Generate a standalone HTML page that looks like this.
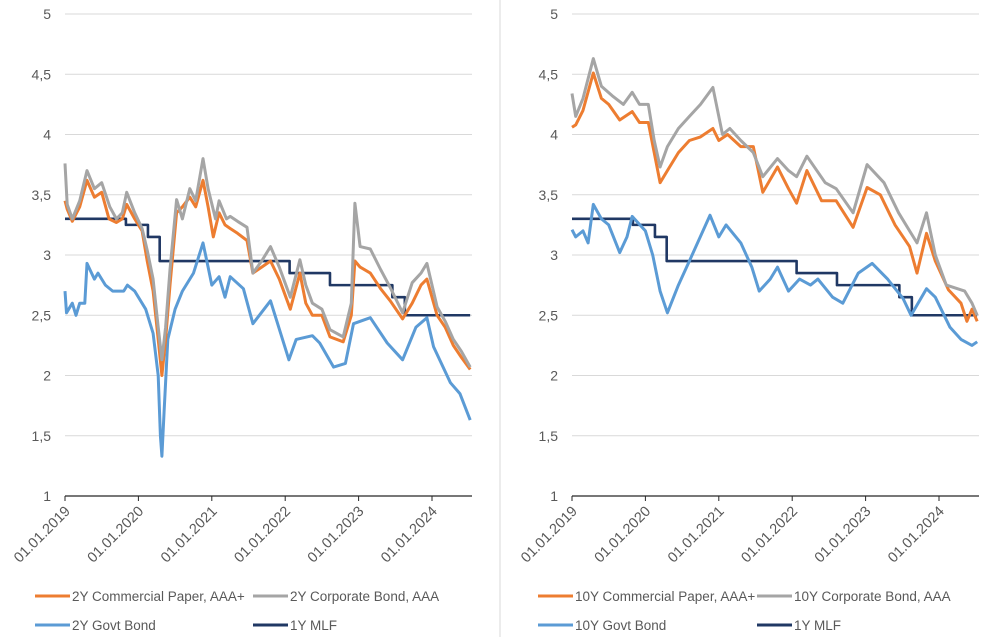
<!DOCTYPE html>
<html><head><meta charset="utf-8"><style>
body{margin:0;background:#fff;}
svg{display:block;font-family:"Liberation Sans",sans-serif;}
</style></head><body>
<svg id="c" width="1000" height="637" viewBox="0 0 1000 637"></svg>
<script>
// ---- data (year-fraction, value) ----
const yTicks=[1,1.5,2,2.5,3,3.5,4,4.5,5];
const yTickLabels=["1","1,5","2","2,5","3","3,5","4","4,5","5"];
const xTickYears=[2019,2020,2021,2022,2023,2024];
const xTickLabels=["01.01.2019","01.01.2020","01.01.2021","01.01.2022","01.01.2023","01.01.2024"];
const mlfDates=[2019.0,2019.83,2020.13,2020.29,2022.06,2022.61,2023.46,2023.63,2024.52];
const mlfValues=[3.3,3.25,3.15,2.95,2.85,2.75,2.65,2.5,2.5];
const cp2Dates=[2019.0,2019.03,2019.1,2019.2,2019.3,2019.4,2019.5,2019.6,2019.7,2019.78,2019.84,2019.95,2020.05,2020.12,2020.2,2020.27,2020.32,2020.37,2020.43,2020.52,2020.6,2020.7,2020.78,2020.88,2020.95,2021.02,2021.1,2021.18,2021.25,2021.35,2021.48,2021.56,2021.68,2021.8,2021.92,2022.07,2022.2,2022.28,2022.37,2022.5,2022.61,2022.79,2022.9,2022.95,2023.02,2023.16,2023.3,2023.43,2023.6,2023.73,2023.85,2023.93,2024.07,2024.18,2024.29,2024.4,2024.52];
const cp2Values=[3.45,3.38,3.28,3.4,3.62,3.48,3.52,3.3,3.27,3.3,3.42,3.3,3.2,2.95,2.7,2.3,2.0,2.3,2.75,3.35,3.4,3.48,3.4,3.62,3.4,3.15,3.35,3.25,3.22,3.18,3.12,2.85,2.9,2.95,2.8,2.55,2.85,2.6,2.5,2.5,2.32,2.28,2.5,2.95,2.9,2.85,2.72,2.62,2.47,2.6,2.75,2.8,2.5,2.4,2.25,2.15,2.05];
const corp2Dates=[2019.0,2019.03,2019.1,2019.2,2019.3,2019.4,2019.5,2019.61,2019.7,2019.78,2019.84,2019.95,2020.05,2020.12,2020.2,2020.27,2020.32,2020.37,2020.43,2020.52,2020.6,2020.7,2020.78,2020.88,2020.95,2021.05,2021.1,2021.2,2021.25,2021.35,2021.48,2021.56,2021.68,2021.8,2021.92,2022.07,2022.2,2022.28,2022.37,2022.5,2022.61,2022.79,2022.9,2022.95,2023.02,2023.16,2023.3,2023.43,2023.6,2023.73,2023.85,2023.93,2024.07,2024.18,2024.29,2024.4,2024.52];
const corp2Values=[3.76,3.42,3.3,3.45,3.7,3.55,3.6,3.4,3.3,3.35,3.52,3.35,3.22,3.04,2.8,2.4,2.13,2.4,2.88,3.46,3.3,3.55,3.45,3.8,3.55,3.3,3.45,3.3,3.32,3.28,3.23,2.85,2.95,3.07,2.9,2.65,2.96,2.75,2.6,2.55,2.38,2.32,2.6,3.43,3.07,3.05,2.88,2.73,2.52,2.77,2.85,2.93,2.57,2.45,2.3,2.2,2.07];
const gov2Dates=[2019.0,2019.02,2019.1,2019.15,2019.2,2019.27,2019.3,2019.4,2019.45,2019.55,2019.65,2019.8,2019.85,2019.95,2020.1,2020.2,2020.27,2020.3,2020.32,2020.35,2020.4,2020.5,2020.6,2020.75,2020.88,2020.95,2021.0,2021.1,2021.18,2021.25,2021.43,2021.56,2021.8,2022.05,2022.15,2022.37,2022.47,2022.66,2022.82,2022.93,2023.16,2023.39,2023.6,2023.78,2023.93,2024.02,2024.25,2024.38,2024.52];
const gov2Values=[2.7,2.52,2.6,2.5,2.6,2.6,2.93,2.8,2.85,2.75,2.7,2.7,2.75,2.7,2.55,2.35,2.0,1.5,1.33,1.7,2.3,2.55,2.7,2.85,3.1,2.9,2.75,2.82,2.65,2.82,2.72,2.43,2.62,2.13,2.3,2.33,2.27,2.07,2.1,2.43,2.48,2.27,2.13,2.4,2.48,2.24,1.94,1.85,1.63];
const cp10Dates=[2019.0,2019.05,2019.15,2019.29,2019.4,2019.5,2019.65,2019.82,2019.92,2020.04,2020.12,2020.2,2020.3,2020.45,2020.6,2020.75,2020.92,2021.0,2021.12,2021.3,2021.47,2021.6,2021.8,2021.95,2022.06,2022.2,2022.4,2022.6,2022.83,2023.02,2023.2,2023.4,2023.6,2023.7,2023.83,2023.95,2024.13,2024.3,2024.38,2024.45,2024.52];
const cp10Values=[4.06,4.08,4.2,4.51,4.3,4.25,4.12,4.19,4.1,4.1,3.85,3.6,3.7,3.85,3.95,3.98,4.05,3.95,4.0,3.9,3.9,3.52,3.73,3.55,3.43,3.7,3.45,3.45,3.23,3.56,3.5,3.25,3.07,2.85,3.18,2.95,2.71,2.6,2.45,2.55,2.45];
const corp10Dates=[2019.0,2019.05,2019.15,2019.29,2019.4,2019.55,2019.7,2019.82,2019.92,2020.04,2020.12,2020.2,2020.3,2020.45,2020.6,2020.75,2020.92,2021.05,2021.15,2021.3,2021.47,2021.6,2021.8,2021.95,2022.06,2022.2,2022.45,2022.6,2022.83,2023.02,2023.25,2023.45,2023.6,2023.7,2023.83,2023.95,2024.1,2024.35,2024.45,2024.52];
const corp10Values=[4.34,4.15,4.3,4.63,4.4,4.32,4.25,4.35,4.25,4.25,3.95,3.73,3.9,4.05,4.15,4.25,4.39,4.0,4.05,3.95,3.85,3.65,3.8,3.7,3.65,3.82,3.6,3.55,3.35,3.75,3.6,3.35,3.2,3.1,3.35,3.0,2.75,2.7,2.6,2.5];
const gov10Dates=[2019.0,2019.05,2019.15,2019.22,2019.29,2019.4,2019.5,2019.65,2019.75,2019.82,2020.0,2020.1,2020.2,2020.3,2020.45,2020.6,2020.88,2021.0,2021.1,2021.3,2021.45,2021.55,2021.7,2021.8,2021.95,2022.1,2022.25,2022.35,2022.55,2022.69,2022.9,2023.09,2023.3,2023.51,2023.62,2023.83,2023.95,2024.15,2024.3,2024.45,2024.52];
const gov10Values=[3.21,3.15,3.2,3.1,3.42,3.3,3.25,3.02,3.15,3.32,3.2,3.0,2.7,2.52,2.75,2.95,3.33,3.15,3.25,3.1,2.9,2.7,2.8,2.9,2.7,2.8,2.75,2.8,2.65,2.6,2.85,2.93,2.8,2.64,2.5,2.72,2.65,2.4,2.3,2.25,2.28];

const NS="http://www.w3.org/2000/svg";
const svg=document.getElementById('c');
function el(tag,attrs,parent){const e=document.createElementNS(NS,tag);for(const k in attrs)e.setAttribute(k,attrs[k]);(parent||svg).appendChild(e);return e;}

const sep=el('line',{x1:500,y1:0,x2:500,y2:637,stroke:'#d9d9d9','stroke-width':1});



function drawPanel(name,x0,x1,series,legend,legendX){
  const g=el('g',{});
  
  
  const yTop=14,yBot=496;
  const ys=v=>yBot-(v-1)*(yBot-yTop)/4;
  const pxPerYear=73.4;
  const xs=t=>x0+(t-2019)*pxPerYear;
  yTicks.forEach((v,i)=>{
    if(i>0){const gl=el('line',{x1:x0,x2:x1,y1:ys(v),y2:ys(v),stroke:'#d9d9d9','stroke-width':1},g);
      
      }
    const t=el('text',{x:x0-14,y:ys(v)+5,'text-anchor':'end','font-size':14,fill:'#595959'},g);
    t.textContent=yTickLabels[i];
    
    
  });
  const ax=el('line',{x1:x0,x2:x1,y1:yBot,y2:yBot,stroke:'#262626','stroke-width':1.3},g);
  
  
  xTickYears.forEach((yr,i)=>{
    const x=xs(yr);
    el('line',{x1:x,x2:x,y1:yBot,y2:yBot+5,stroke:'#262626','stroke-width':1},g);
    const t=el('text',{x:x+6,y:yBot+16,'text-anchor':'end','font-size':14.5,fill:'#595959',transform:`rotate(-45 ${x+6} ${yBot+16})`},g);
    t.textContent=xTickLabels[i];
    
    
  });
  series.forEach(s=>{
    let d='';
    if(s.step){
      s.dates.forEach((t,i)=>{
        if(i===0)d+=`M${xs(t)},${ys(s.values[i])}`;
        else d+=`H${xs(t)}V${ys(s.values[i])}`;
      });
    } else {
      s.dates.forEach((t,i)=>{d+=(i?'L':'M')+xs(t).toFixed(1)+','+ys(s.values[i]).toFixed(1);});
    }
    const p=el('path',{d:d,fill:'none',stroke:s.color,'stroke-width':s.step?2.6:3,'stroke-linejoin':'round'},g);
    
    
  });
  legend.forEach((l,i)=>{
    const lx=legendX[i%2], ly=i<2?596:625;
    el('line',{x1:lx,x2:lx+35,y1:ly,y2:ly,stroke:l.color,'stroke-width':3},g);
    const t=el('text',{x:lx+37,y:ly+5,'font-size':13.5,fill:'#595959'},g);
    t.textContent=l.label;
    
    
  });
}
const OR='#ED7D31',GR='#A5A5A5',BL='#5B9BD5',NV='#203864';
drawPanel('left-chart-2y',65,472,[
  {name:'mlf-line',dates:mlfDates,values:mlfValues,color:NV,step:true},
  {name:'govt-2y-line',dates:gov2Dates,values:gov2Values,color:BL},
  {name:'cp-2y-line',dates:cp2Dates,values:cp2Values,color:OR},
  {name:'corp-2y-line',dates:corp2Dates,values:corp2Values,color:GR}
],[{label:'2Y Commercial Paper, AAA+',color:OR},{label:'2Y Corporate Bond, AAA',color:GR},{label:'2Y Govt Bond',color:BL},{label:'1Y MLF',color:NV}],[35,253]);
drawPanel('right-chart-10y',572,979,[
  {name:'mlf-line',dates:mlfDates,values:mlfValues,color:NV,step:true},
  {name:'govt-10y-line',dates:gov10Dates,values:gov10Values,color:BL},
  {name:'cp-10y-line',dates:cp10Dates,values:cp10Values,color:OR},
  {name:'corp-10y-line',dates:corp10Dates,values:corp10Values,color:GR}
],[{label:'10Y Commercial Paper, AAA+',color:OR},{label:'10Y Corporate Bond, AAA',color:GR},{label:'10Y Govt Bond',color:BL},{label:'1Y MLF',color:NV}],[538,757]);
</script>
</body></html>
